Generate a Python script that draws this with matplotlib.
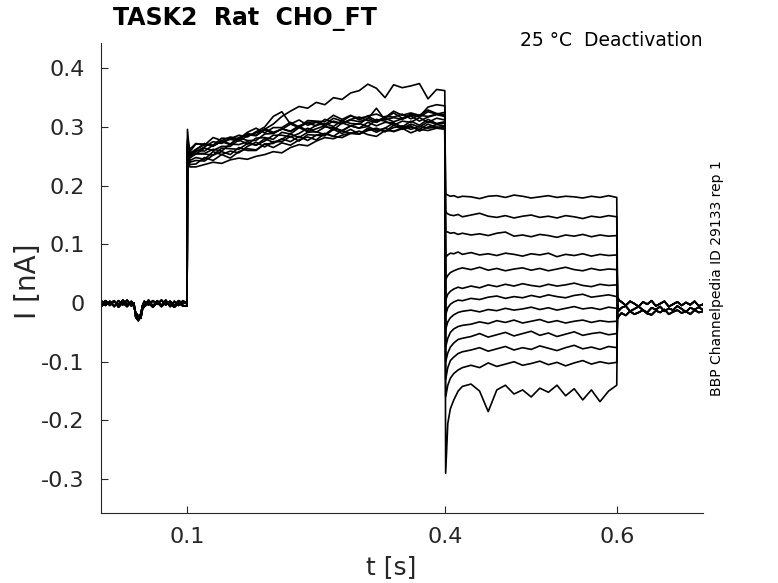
import numpy as np
import matplotlib
matplotlib.use("Agg")
import matplotlib.pyplot as plt

plt.rcParams['font.family'] = ['DejaVu Sans']
plt.rcParams['axes.unicode_minus'] = False

# --- data (current in nA, time in s) ---
t_pre = [0.000, 0.005, 0.010, 0.015, 0.020, 0.025, 0.030, 0.035, 0.038, 0.040, 0.043, 0.046,
         0.048, 0.050, 0.055, 0.060, 0.065, 0.070, 0.075, 0.080, 0.085, 0.090, 0.095, 0.0998]
base_1 = [-0.002, 0.004, -0.004, 0.003, -0.003, 0.005, -0.002, 0.002, -0.003, -0.020, -0.027, -0.018,
          -0.004, 0.003, -0.003, 0.004, -0.002, 0.005, -0.003, 0.003, -0.004, 0.004, -0.001, 0.002]
base_2 = [0.004, -0.004, 0.003, -0.006, 0.004, -0.003, 0.005, -0.005, 0.000, -0.024, -0.030, -0.022,
          -0.006, -0.004, 0.005, -0.005, 0.004, -0.004, 0.005, -0.006, 0.003, -0.004, 0.004, -0.002]
base_3 = [-0.006, 0.001, -0.001, 0.004, -0.007, 0.001, -0.006, 0.003, -0.006, -0.016, -0.022, -0.026,
          -0.010, -0.006, 0.000, -0.007, 0.001, -0.006, 0.001, -0.002, -0.007, 0.000, -0.005, -0.005]

t_act = [0.1002, 0.103, 0.11, 0.12, 0.13, 0.14, 0.15, 0.16, 0.17, 0.18, 0.19, 0.20, 0.21, 0.22,
         0.23, 0.24, 0.25, 0.26, 0.27, 0.28, 0.29, 0.30, 0.31, 0.32, 0.33, 0.34, 0.35, 0.36,
         0.37, 0.38, 0.39, 0.3995]
act_a = [0.280, 0.262, 0.272, 0.269, 0.282, 0.277, 0.283, 0.280, 0.291, 0.298, 0.290, 0.299, 0.299,
         0.308, 0.300, 0.311, 0.310, 0.309, 0.320, 0.313, 0.320, 0.312, 0.319, 0.322, 0.316, 0.327,
         0.320, 0.324, 0.320, 0.329, 0.323, 0.321]
act_i = [0.276, 0.258, 0.271, 0.271, 0.269, 0.281, 0.280, 0.279, 0.289, 0.286, 0.297, 0.291, 0.296,
         0.305, 0.299, 0.308, 0.309, 0.304, 0.315, 0.310, 0.319, 0.315, 0.318, 0.311, 0.315, 0.324,
         0.315, 0.322, 0.317, 0.326, 0.322, 0.325]
act_b = [0.271, 0.255, 0.261, 0.272, 0.267, 0.277, 0.271, 0.282, 0.287, 0.285, 0.295, 0.289, 0.297,
         0.293, 0.302, 0.307, 0.302, 0.313, 0.308, 0.306, 0.313, 0.317, 0.311, 0.308, 0.318, 0.317,
         0.322, 0.314, 0.320, 0.318, 0.322, 0.319]
act_c = [0.268, 0.252, 0.260, 0.259, 0.269, 0.275, 0.270, 0.282, 0.277, 0.277, 0.288, 0.289, 0.297,
         0.292, 0.301, 0.294, 0.303, 0.306, 0.301, 0.311, 0.306, 0.305, 0.315, 0.308, 0.315, 0.309,
         0.314, 0.319, 0.310, 0.317, 0.321, 0.318]
act_d = [0.265, 0.249, 0.254, 0.264, 0.260, 0.267, 0.267, 0.278, 0.271, 0.281, 0.282, 0.279, 0.291,
         0.288, 0.299, 0.292, 0.297, 0.302, 0.295, 0.307, 0.302, 0.306, 0.301, 0.313, 0.310, 0.303,
         0.310, 0.308, 0.316, 0.308, 0.315, 0.312]
act_e = [0.262, 0.247, 0.255, 0.255, 0.262, 0.259, 0.271, 0.270, 0.275, 0.269, 0.276, 0.286, 0.286,
         0.283, 0.289, 0.298, 0.291, 0.300, 0.299, 0.294, 0.302, 0.298, 0.308, 0.302, 0.308, 0.307,
         0.300, 0.310, 0.303, 0.313, 0.306, 0.309]
act_f = [0.296, 0.250, 0.254, 0.254, 0.252, 0.264, 0.263, 0.262, 0.272, 0.269, 0.280, 0.274, 0.279,
         0.288, 0.282, 0.291, 0.292, 0.287, 0.298, 0.293, 0.302, 0.298, 0.301, 0.294, 0.298, 0.307,
         0.298, 0.305, 0.300, 0.309, 0.305, 0.307]
act_g = [0.258, 0.243, 0.248, 0.245, 0.258, 0.253, 0.259, 0.256, 0.267, 0.274, 0.266, 0.275, 0.275,
         0.284, 0.276, 0.287, 0.286, 0.285, 0.296, 0.289, 0.296, 0.288, 0.295, 0.298, 0.292, 0.303,
         0.296, 0.300, 0.296, 0.305, 0.299, 0.301]
act_j = [0.255, 0.240, 0.243, 0.242, 0.252, 0.258, 0.253, 0.265, 0.260, 0.260, 0.271, 0.272, 0.280,
         0.275, 0.284, 0.277, 0.286, 0.289, 0.284, 0.294, 0.289, 0.288, 0.298, 0.291, 0.298, 0.292,
         0.297, 0.302, 0.293, 0.300, 0.304, 0.302]
act_h = [0.252, 0.236, 0.237, 0.248, 0.243, 0.253, 0.247, 0.258, 0.263, 0.261, 0.271, 0.265, 0.273,
         0.269, 0.278, 0.283, 0.278, 0.289, 0.284, 0.282, 0.289, 0.293, 0.287, 0.284, 0.294, 0.293,
         0.298, 0.290, 0.296, 0.294, 0.298, 0.296]
act_high = [0.270, 0.255, 0.262, 0.270, 0.268, 0.275, 0.279, 0.276, 0.285, 0.290, 0.296, 0.305, 0.318,
            0.327, 0.335, 0.332, 0.342, 0.338, 0.350, 0.347, 0.358, 0.362, 0.373, 0.366, 0.350, 0.372,
            0.367, 0.370, 0.374, 0.348, 0.364, 0.362]
act_mid = [0.266, 0.250, 0.258, 0.266, 0.275, 0.272, 0.280, 0.286, 0.283, 0.292, 0.300, 0.318, 0.326,
           0.305, 0.312, 0.303, 0.308, 0.302, 0.310, 0.306, 0.312, 0.309, 0.314, 0.332, 0.312, 0.316,
           0.313, 0.320, 0.318, 0.334, 0.338, 0.336]
act_low = [0.250, 0.232, 0.232, 0.236, 0.240, 0.238, 0.244, 0.247, 0.245, 0.250, 0.253, 0.258, 0.256,
           0.265, 0.270, 0.268, 0.276, 0.282, 0.280, 0.286, 0.290, 0.288, 0.294, 0.297, 0.292, 0.299,
           0.302, 0.296, 0.301, 0.298, 0.300, 0.298]

t_tail = [0.4005, 0.403, 0.406, 0.41, 0.415, 0.42, 0.43, 0.44, 0.45, 0.46, 0.47, 0.48, 0.49, 0.50,
          0.51, 0.52, 0.53, 0.54, 0.55, 0.56, 0.57, 0.58, 0.59, 0.5995]
tail_01 = [0.186, 0.184, 0.182, 0.183, 0.180, 0.182, 0.181, 0.178, 0.182, 0.183, 0.180, 0.184,
           0.182, 0.179, 0.181, 0.183, 0.180, 0.182, 0.181, 0.179, 0.182, 0.180, 0.183, 0.180]
tail_02 = [0.155, 0.152, 0.150, 0.149, 0.151, 0.147, 0.150, 0.153, 0.148, 0.146, 0.149, 0.145,
           0.148, 0.150, 0.146, 0.148, 0.145, 0.149, 0.147, 0.144, 0.148, 0.146, 0.149, 0.147]
tail_03 = [0.122, 0.121, 0.119, 0.120, 0.117, 0.119, 0.116, 0.118, 0.115, 0.119, 0.121, 0.114,
           0.116, 0.113, 0.117, 0.115, 0.112, 0.116, 0.114, 0.117, 0.113, 0.116, 0.114, 0.115]
tail_04 = [0.078, 0.082, 0.085, 0.084, 0.087, 0.083, 0.086, 0.082, 0.084, 0.081, 0.085, 0.083,
           0.080, 0.084, 0.082, 0.085, 0.079, 0.083, 0.081, 0.084, 0.080, 0.083, 0.081, 0.082]
tail_05 = [0.040, 0.047, 0.052, 0.055, 0.058, 0.060, 0.057, 0.061, 0.056, 0.059, 0.055, 0.058,
           0.060, 0.056, 0.059, 0.055, 0.058, 0.061, 0.057, 0.055, 0.059, 0.056, 0.058, 0.057]
tail_06 = [0.005, 0.015, 0.020, 0.024, 0.027, 0.025, 0.029, 0.026, 0.031, 0.028, 0.032, 0.029,
           0.033, 0.030, 0.028, 0.032, 0.029, 0.031, 0.034, 0.030, 0.028, 0.032, 0.030, 0.031]
tail_07 = [-0.020, -0.008, -0.002, 0.002, 0.005, 0.004, 0.008, 0.006, 0.010, 0.012, 0.008, 0.011,
           0.009, 0.013, 0.010, 0.014, 0.011, 0.009, 0.013, 0.015, 0.010, 0.012, 0.014, 0.011]
tail_08 = [-0.045, -0.032, -0.025, -0.020, -0.016, -0.014, -0.012, -0.015, -0.011, -0.013, -0.009, -0.012,
           -0.010, -0.007, -0.011, -0.008, -0.012, -0.009, -0.006, -0.010, -0.008, -0.011, -0.007, -0.009]
tail_09 = [-0.075, -0.060, -0.050, -0.044, -0.040, -0.038, -0.036, -0.032, -0.035, -0.030, -0.033, -0.029,
           -0.034, -0.031, -0.028, -0.033, -0.030, -0.034, -0.031, -0.029, -0.033, -0.030, -0.032, -0.031]
tail_10 = [-0.100, -0.085, -0.075, -0.068, -0.062, -0.060, -0.057, -0.052, -0.058, -0.054, -0.050, -0.056,
           -0.052, -0.048, -0.055, -0.051, -0.057, -0.053, -0.049, -0.055, -0.052, -0.050, -0.054, -0.052]
tail_11 = [-0.130, -0.110, -0.098, -0.092, -0.086, -0.083, -0.080, -0.076, -0.082, -0.078, -0.074, -0.080,
           -0.076, -0.079, -0.073, -0.077, -0.081, -0.076, -0.072, -0.078, -0.075, -0.079, -0.074, -0.076]
tail_12 = [-0.160, -0.140, -0.128, -0.120, -0.114, -0.110, -0.106, -0.110, -0.102, -0.108, -0.104, -0.100,
           -0.106, -0.103, -0.099, -0.105, -0.101, -0.107, -0.102, -0.098, -0.104, -0.100, -0.103, -0.101]
tail_13 = [-0.290, -0.205, -0.180, -0.165, -0.150, -0.142, -0.138, -0.150, -0.185, -0.148, -0.140, -0.155,
           -0.148, -0.160, -0.145, -0.152, -0.140, -0.158, -0.146, -0.165, -0.148, -0.168, -0.150, -0.140]

t_post = [0.6005, 0.602, 0.605, 0.61, 0.615, 0.62, 0.625, 0.63, 0.635, 0.64, 0.645, 0.65, 0.655,
          0.66, 0.665, 0.67, 0.675, 0.68, 0.685, 0.69, 0.695, 0.70]
post_1 = [0.010, 0.005, 0.002, -0.004, 0.003, -0.001, -0.006, 0.002, -0.002, 0.004, -0.005, -0.001,
          0.003, -0.006, -0.002, 0.002, -0.004, 0.001, -0.003, 0.003, -0.005, -0.002]
post_2 = [-0.026, -0.022, -0.017, -0.021, -0.014, -0.019, -0.016, -0.012, -0.018, -0.020, -0.013, -0.016,
          -0.011, -0.019, -0.015, -0.012, -0.017, -0.014, -0.019, -0.012, -0.016, -0.014]
post_3 = [-0.004, -0.013, -0.008, -0.005, -0.014, -0.010, -0.006, -0.012, -0.016, -0.008, -0.011, -0.006,
          -0.014, -0.009, -0.012, -0.005, -0.010, -0.015, -0.008, -0.011, -0.007, -0.012]

x_ticks = [0.1, 0.4, 0.6]
y_ticks = [-0.3, -0.2, -0.1, 0.0, 0.1, 0.2, 0.3, 0.4]
y_tick_labels = ['-0.3', '-0.2', '-0.1', '0', '0.1', '0.2', '0.3', '0.4']

# each sweep: holding -> activation step -> tail step -> back to holding
act_rows = [act_a, act_high, act_i, act_b, act_c, act_mid, act_d, act_e, act_f, act_g, act_j, act_h, act_low]
tail_rows = [tail_01, tail_02, tail_03, tail_04, tail_05, tail_06, tail_07,
             tail_08, tail_09, tail_10, tail_11, tail_12, tail_13]
base_rows = [base_1, base_2, base_3]
post_rows = [post_1, post_2, post_3]

t_all = np.concatenate([t_pre, t_act, t_tail, t_post])

fig = plt.figure(figsize=(7.78, 5.83), dpi=100)
ax = fig.add_axes([0.1302, 0.12, 0.7736, 0.806])

for k in range(len(tail_rows)):
    i_all = np.concatenate([base_rows[k % 3], act_rows[k], tail_rows[k], post_rows[k % 3]])
    ax.plot(t_all, i_all, color='black', lw=1.2)

ax.set_xlim(0.0, 0.7)
ax.set_ylim(-0.3578, 0.4429)
ax.set_xticks(x_ticks)
ax.set_xticklabels(['0.1', '0.4', '0.6'])
ax.set_yticks(y_ticks)
ax.set_yticklabels(y_tick_labels)

grey = '#262626'
for side in ['top', 'right']:
    ax.spines[side].set_visible(False)
for side in ['left', 'bottom']:
    ax.spines[side].set_color(grey)
    ax.spines[side].set_linewidth(0.8)
ax.tick_params(axis='both', direction='in', length=5, width=0.8, colors=grey, labelsize=16)
ax.tick_params(axis='x', pad=10)
ax.tick_params(axis='y', pad=12)

fig.text(0.5025, 0.028, 't [s]', ha='center', va='center', fontsize=18, color=grey)
fig.text(0.036, 0.518, 'I [nA]', ha='center', va='center', rotation=90, fontsize=20, color=grey)

fig.text(113 / 778, 1 - 7 / 583, 'TASK2  Rat  CHO_FT', ha='left', va='top',
         fontsize=17, fontweight='bold', color='black')
fig.text(703 / 778, 1 - 41 / 583, '25 °C  Deactivation', ha='right', va='center',
         fontsize=13.5, color='black')
fig.text(717 / 778, 1 - 278 / 583, 'BBP Channelpedia ID 29133 rep 1', ha='center', va='center',
         rotation=90, fontsize=10, color='black')

fig.savefig('out.png', dpi=100)
